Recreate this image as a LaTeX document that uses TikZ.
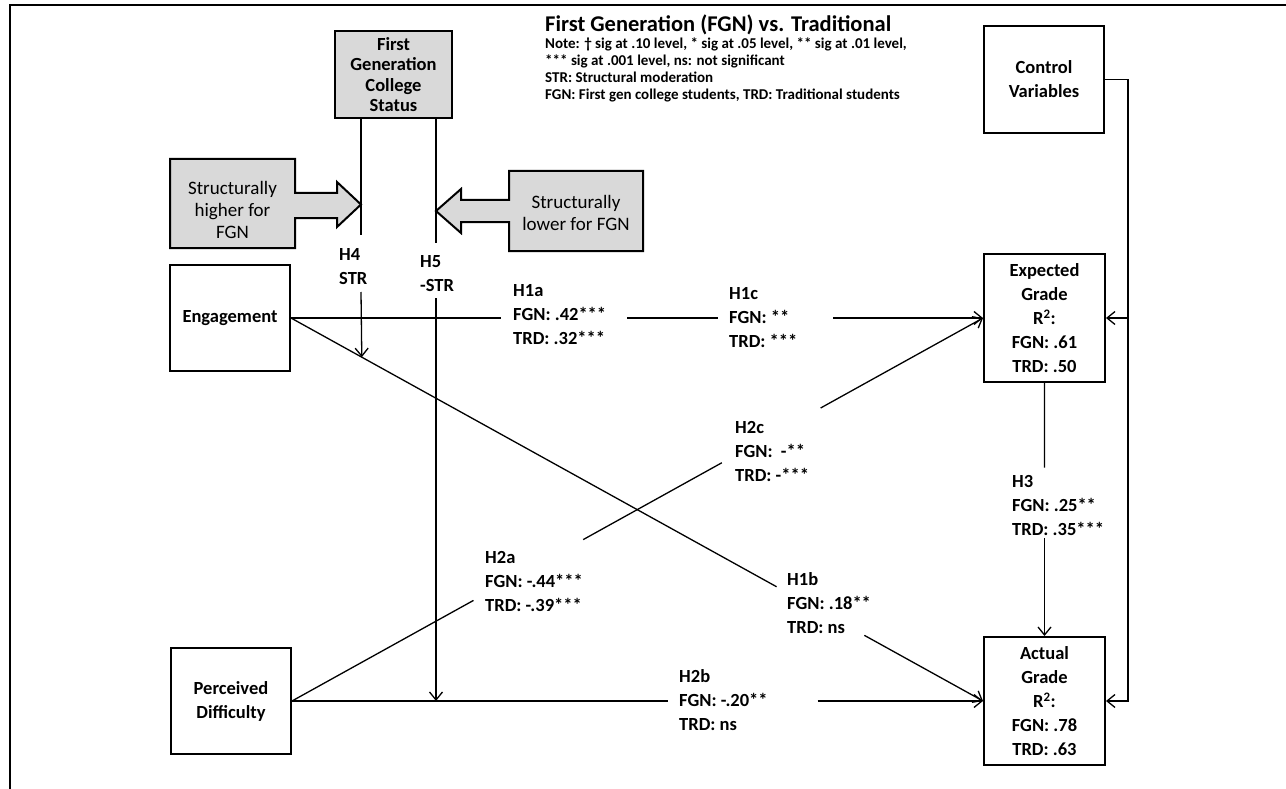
\documentclass[tikz,border=0pt]{standalone}
\usepackage{fontspec}
\setmainfont{Carlito}
\usetikzlibrary{arrows.meta,calc}
\newcommand\labfont{\fontsize{18.5}{24}\selectfont\bfseries}
\newcommand\tightfont{\fontsize{18.5}{20.5}\selectfont\bfseries}
\newcommand\calfont{\fontsize{19}{22}\selectfont}
\definecolor{boxgray}{RGB}{217,217,217}
\tikzset{
  box/.style={draw, line width=2pt, align=center, inner sep=0pt, font=\labfont},
  lbl/.style={align=left, inner sep=0pt, anchor=west, font=\labfont},
  conn/.style={line width=1.3pt},
  arr/.style={conn, -{Straight Barb[length=8pt,width=13pt,line width=1.3pt]}},
  callout/.style={draw, line width=2pt, fill=boxgray, line join=miter},
  caltext/.style={align=center, inner sep=0pt, font=\calfont},
}
\begin{document}
\begin{tikzpicture}[x=1pt,y=-1pt]
\useasboundingbox (0,0) rectangle (1286,789);
% frame
\draw[line width=2.5pt] (10,789) -- (10,5) -- (1286,5);

% title and notes
\node[anchor=west, inner sep=0pt, font=\fontsize{22.5}{26}\selectfont\bfseries] (title) at (545,25) {First Generation (FGN) vs. Traditional};
\node[anchor=north west, inner sep=0pt, align=left, font=\fontsize{15}{17}\selectfont\bfseries] (note) at (545,38)
  {Note: \textdagger\ sig at .10 level, * sig at .05 level, ** sig at .01 level,\\
   *** sig at .001 level, ns: not significant\\
   STR: Structural moderation\\
   FGN: First gen college students, TRD: Traditional students};

% boxes
\node[box, fill=boxgray, font=\tightfont, minimum width=117pt, minimum height=87pt] (fgcs) at (393.5,74.5) {First\\Generation\\College\\Status};
\node[box, minimum width=120pt, minimum height=107pt] (ctrl) at (1044,79.5) {Control\\Variables};
\node[box, minimum width=120pt, minimum height=106pt] (eng) at (230,318) {Engagement};
\node[box, minimum width=120pt, minimum height=106pt] (perc) at (231,701) {Perceived\\Difficulty};
\node[box, minimum width=121pt, minimum height=128pt] (exp) at (1044.5,318) {Expected\\Grade\\R\textsuperscript{2}:\\FGN: .61\\TRD: .50};
\node[box, minimum width=121pt, minimum height=128pt] (act) at (1044.5,701) {Actual\\Grade\\R\textsuperscript{2}:\\FGN: .78\\TRD: .63};

% callouts
\draw[callout] (170,159) -- (295,159) -- (295,193) -- (337,193) -- (337,182) -- (361,204.5)
   -- (337,227) -- (337,218) -- (295,218) -- (295,248) -- (170,248) -- cycle;
\node[caltext] (higher) at (232.5,210) {Structurally\\higher for\\FGN};
\draw[callout] (643,171) -- (509,171) -- (509,200) -- (461,200) -- (461,189) -- (436,211)
   -- (461,233) -- (461,222) -- (509,222) -- (509,251) -- (643,251) -- cycle;
\node[caltext] (lower) at (576,213) {Structurally\\lower for FGN};

% labels
\node[lbl] (h4) at (339,267) {H4\\STR};
\node[lbl] (h5) at (420,273.5) {H5\\-STR};
\node[lbl] (h1a) at (513,315) {H1a\\FGN: .42***\\TRD: .32***};
\node[lbl] (h1c) at (729,318) {H1c\\FGN: **\\TRD: ***};
\node[lbl] (h2c) at (735,451) {H2c\\FGN:\ \ -**\\TRD: -***};
\node[lbl] (h2a) at (485,581) {H2a\\FGN: -.44***\\TRD: -.39***};
\node[lbl] (h1b) at (787,603) {H1b\\FGN: .18**\\TRD: ns};
\node[lbl] (h2b) at (679,700) {H2b\\FGN: -.20**\\TRD: ns};
\node[lbl] (h3) at (1012,505) {H3\\FGN: .25**\\TRD: .35***};

% gap coordinates
\coordinate (e1) at ($(eng.east)!0.304!(exp.west)$);
\coordinate (e2) at ($(eng.east)!0.4856!(exp.west)$);
\coordinate (e3) at ($(eng.east)!0.6167!(exp.west)$);
\coordinate (e4) at ($(eng.east)!0.7839!(exp.west)$);
\coordinate (d1) at ($(eng.east)!0.7017!(act.west)$);
\coordinate (d2) at ($(eng.east)!0.8285!(act.west)$);
\coordinate (p1) at ($(perc.east)!0.544!(act.west)$);
\coordinate (p2) at ($(perc.east)!0.7605!(act.west)$);
\coordinate (q1) at ($(perc.east)!0.2626!(exp.west)$);
\coordinate (q2) at ($(perc.east)!0.4214!(exp.west)$);
\coordinate (q3) at ($(perc.east)!0.622!(exp.west)$);
\coordinate (q4) at ($(perc.east)!0.765!(exp.west)$);
\coordinate (r1) at ($(exp.south)!0.334!(act.north)$);
\coordinate (r2) at ($(exp.south)!0.613!(act.north)$);
\coordinate (h4x) at (361,0);
\coordinate (h5x) at (436,0);
\coordinate (h4tip) at ($(eng.east)!0.1023!(act.west)$);
\coordinate (rail) at (1128,0);

% Engagement -> Expected (H1a, H1c)
\draw[conn] (eng.east) -- (e1);
\draw[conn] (e2) -- (e3);
\draw[arr] (e4) -- (exp.west);
% Engagement -> Actual (H1b)
\draw[conn] (eng.east) -- (d1);
\draw[arr] (d2) -- (act.west);
% Perceived -> Actual (H2b)
\draw[conn] (perc.east) -- (p1);
\draw[arr] (p2) -- (act.west);
% Perceived -> Expected (H2a, H2c)
\draw[conn] (perc.east) -- (q1);
\draw[conn] (q2) -- (q3);
\draw[arr] (q4) -- (exp.west);
% Expected -> Actual (H3)
\draw[conn] (exp.south) -- (r1);
\draw[arr] (r2) -- (act.north);
% moderators
\draw[conn] (h4x |- fgcs.south) -- (361,235);
\draw[arr] (361,292) -- (h4tip);
\draw[conn] (h5x |- fgcs.south) -- (436,243);
\draw[arr] (436,298) -- (h5x |- perc.east);
% control variables
\draw[arr] (ctrl.east) -| (rail |- exp.east) -- (exp.east);
\draw[arr] (rail |- exp.east) -- (rail |- act.east) -- (act.east);
\end{tikzpicture}
\end{document}
